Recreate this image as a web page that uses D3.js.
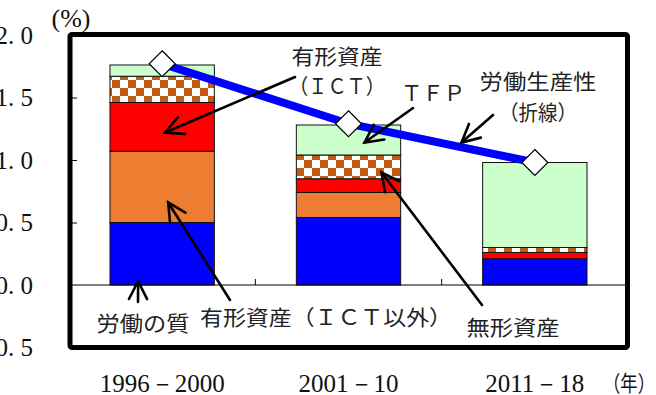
<!DOCTYPE html>
<html>
<head>
<meta charset="utf-8">
<script src="https://cdn.jsdelivr.net/npm/d3@7"></script>
<style>
  body { margin: 0; background: #fff; }
  svg { display: block; }
</style>
</head>
<body>
<svg id="chart" width="656" height="395"></svg>
<script>
// Data (percent)
const categories = ["1996－2000", "2001－10", "2011－18"];
const laborQuality = [0.50, 0.54, 0.21];     // 労働の質
const tangibleOther = [0.57, 0.20, 0.00];    // 有形資産（ＩＣＴ以外）
const tangibleICT = [0.39, 0.11, 0.05];      // 有形資産（ＩＣＴ）
const intangible = [0.21, 0.19, 0.04];       // 無形資産
const tfp = [0.09, 0.24, 0.68];              // ＴＦＰ
const productivity = [1.77, 1.29, 0.98];     // 労働生産性（折線）
const yTicks = [-0.5, 0, 0.5, 1.0, 1.5, 2.0];

const keys = ["laborQuality", "tangibleOther", "tangibleICT", "intangible", "tfp"];
const colors = {
    laborQuality: "#0000ff",
    tangibleOther: "#ed7d31",
    tangibleICT: "#ff0000",
    intangible: "url(#checker)",
    tfp: "#ccffcc"
};

const rows = categories.map((c, i) => ({
    cat: c,
    laborQuality: laborQuality[i],
    tangibleOther: tangibleOther[i],
    tangibleICT: tangibleICT[i],
    intangible: intangible[i],
    tfp: tfp[i]
}));

const svg = d3.select("#chart");
const serif = "'Liberation Serif', 'DejaVu Serif', serif";
const jp = "'Noto Sans CJK JP', sans-serif";

// frame / plot area
const frame = { left: 70, right: 627.5, top: 34.5, bottom: 347.5 };

const x = d3.scaleBand()
    .domain(categories)
    .range([69, 628])
    .paddingInner(0.44)
    .paddingOuter(0.22);

const y = d3.scaleLinear()
    .domain([-0.5, 2.0])
    .range([347.5, 35]);

// checker pattern for 無形資産
const defs = svg.append("defs");
const pat = defs.append("pattern")
    .attr("id", "checker")
    .attr("patternUnits", "userSpaceOnUse")
    .attr("width", 16).attr("height", 16);
pat.append("rect").attr("width", 16).attr("height", 16).attr("fill", "#fff");
pat.append("rect").attr("x", 0).attr("y", 0).attr("width", 8).attr("height", 8).attr("fill", "#c55a11");
pat.append("rect").attr("x", 8).attr("y", 8).attr("width", 8).attr("height", 8).attr("fill", "#c55a11");

// stacked bars
const stack = d3.stack().keys(keys)(rows);

svg.append("g")
    .selectAll("g")
    .data(stack)
    .join("g")
    .attr("fill", d => colors[d.key])
    .selectAll("rect")
    .data(d => d)
    .join("rect")
    .attr("x", d => x(d.data.cat))
    .attr("width", x.bandwidth())
    .attr("y", d => y(d[1]))
    .attr("height", d => y(d[0]) - y(d[1]))
    .attr("stroke", "#111")
    .attr("stroke-width", d => (d[1] - d[0]) > 0 ? 1 : 0);

// zero line
svg.append("line")
    .attr("x1", frame.left).attr("x2", frame.right)
    .attr("y1", y(0)).attr("y2", y(0))
    .attr("stroke", "#000").attr("stroke-width", 1.2);

// category separators on the zero line
categories.slice(1).forEach(c => {
    const bx = x(c) - x.step() * x.paddingInner() / 2;
    svg.append("line")
        .attr("x1", bx).attr("x2", bx)
        .attr("y1", y(0)).attr("y2", y(0) - 6)
        .attr("stroke", "#000").attr("stroke-width", 1);
});

// y axis ticks inside the frame
const yAxis = d3.axisRight(y)
    .tickValues(yTicks.filter(t => t > -0.5 && t < 2 && t !== 0))
    .tickSize(5)
    .tickFormat("");
svg.append("g")
    .attr("transform", `translate(${frame.left + 2},0)`)
    .call(yAxis)
    .call(g => g.select(".domain").remove())
    .call(g => g.selectAll("line").attr("stroke", "#000"));

// y tick labels (partly cut at the left edge, as in the source)
svg.append("g")
    .selectAll("text")
    .data(yTicks)
    .join("text")
    .attr("x", 33)
    .attr("y", d => y(d))
    .attr("dy", "0.35em")
    .attr("text-anchor", "end")
    .attr("font-family", serif)
    .attr("font-size", 25)
    .attr("fill", "#111")
    .text(d => (d < 0 ? "−" : "") + d3.format(".1f")(Math.abs(d)).replace(".", ". "));

svg.append("text")
    .attr("x", 71).attr("y", 18).attr("dy", "0.35em")
    .attr("text-anchor", "middle")
    .attr("font-family", serif).attr("font-size", 26)
    .attr("fill", "#111")
    .text("(%)");

// x labels
svg.append("g")
    .selectAll("text")
    .data(categories)
    .join("text")
    .attr("x", d => x(d) + x.bandwidth() / 2)
    .attr("y", 383).attr("dy", "0.35em")
    .attr("text-anchor", "middle")
    .attr("font-family", serif).attr("font-size", 25)
    .attr("fill", "#111")
    .text(d => d);

svg.append("text")
    .attr("x", 603).attr("y", 383).attr("dy", "0.35em")
    .attr("font-family", jp).attr("font-size", 22)
    .attr("textLength", 52).attr("lengthAdjust", "spacingAndGlyphs")
    .attr("fill", "#111")
    .text("（年）");

// productivity line
const cx = d => x(d) + x.bandwidth() / 2;
const line = d3.line()
    .x((d, i) => cx(categories[i]))
    .y(d => y(d));
svg.append("path")
    .datum(productivity)
    .attr("d", line)
    .attr("fill", "none")
    .attr("stroke", "#0000ff")
    .attr("stroke-width", 8);

svg.append("g")
    .selectAll("path")
    .data(productivity)
    .join("path")
    .attr("transform", (d, i) => `translate(${cx(categories[i])},${y(d)})`)
    .attr("d", "M0,-13 L13,0 L0,13 L-13,0 Z")
    .attr("fill", "#fff")
    .attr("stroke", "#000")
    .attr("stroke-width", 1.2);

// annotation labels
const labels = [
    { text: "有形資産", x: 337, y: 56, len: 91 },
    { text: "（ＩＣＴ）", x: 337, y: 86, len: 96 },
    { text: "ＴＦＰ", x: 433, y: 93, len: 64 },
    { text: "労働生産性", x: 538, y: 81, len: 117 },
    { text: "（折線）", x: 538, y: 112, len: 78 },
    { text: "労働の質", x: 143, y: 323, len: 93 },
    { text: "有形資産（ＩＣＴ以外）", x: 326, y: 317, len: 252 },
    { text: "無形資産", x: 513, y: 327, len: 93 }
];
svg.append("g")
    .selectAll("text")
    .data(labels)
    .join("text")
    .attr("x", d => d.x - d.len / 2)
    .attr("y", d => d.y)
    .attr("dy", "0.36em")
    .attr("textLength", d => d.len)
    .attr("lengthAdjust", "spacingAndGlyphs")
    .attr("font-family", jp)
    .attr("font-size", 21)
    .attr("fill", "#222")
    .text(d => d.text);

// arrows: tail in pixels near the label, tip placed on the data
const arrows = [
    { from: [295, 77], cat: 0, dx: 3, v: 1.22 },
    { from: [413, 108], cat: 1, dx: 16, v: 1.14 },
    { from: [493, 115], cat: 1, dx: 113, v: 1.14 },
    { from: [138, 302], cat: 0, dx: -24, v: 0.03 },
    { from: [230, 300], cat: 0, dx: 6, v: 0.66 },
    { from: [482, 305], cat: 1, dx: 33, v: 0.90 }
];
const ag = svg.append("g")
    .attr("stroke", "#000")
    .attr("stroke-width", 2.6)
    .attr("fill", "none")
    .attr("stroke-linecap", "round");
arrows.forEach(a => {
    const tx = cx(categories[a.cat]) + a.dx;
    const ty = y(a.v);
    const [fx, fy] = a.from;
    const ang = Math.atan2(fy - ty, fx - tx);
    const L = 20, spread = 27 * Math.PI / 180;
    ag.append("line")
        .attr("x1", fx).attr("y1", fy)
        .attr("x2", tx).attr("y2", ty);
    const p = d3.path();
    p.moveTo(tx + L * Math.cos(ang - spread), ty + L * Math.sin(ang - spread));
    p.lineTo(tx, ty);
    p.lineTo(tx + L * Math.cos(ang + spread), ty + L * Math.sin(ang + spread));
    ag.append("path").attr("d", p.toString());
});

// thick frame
svg.append("rect")
    .attr("x", frame.left).attr("y", frame.top)
    .attr("width", frame.right - frame.left)
    .attr("height", frame.bottom - frame.top)
    .attr("rx", 2)
    .attr("fill", "none")
    .attr("stroke", "#000")
    .attr("stroke-width", 5);
</script>
</body>
</html>
